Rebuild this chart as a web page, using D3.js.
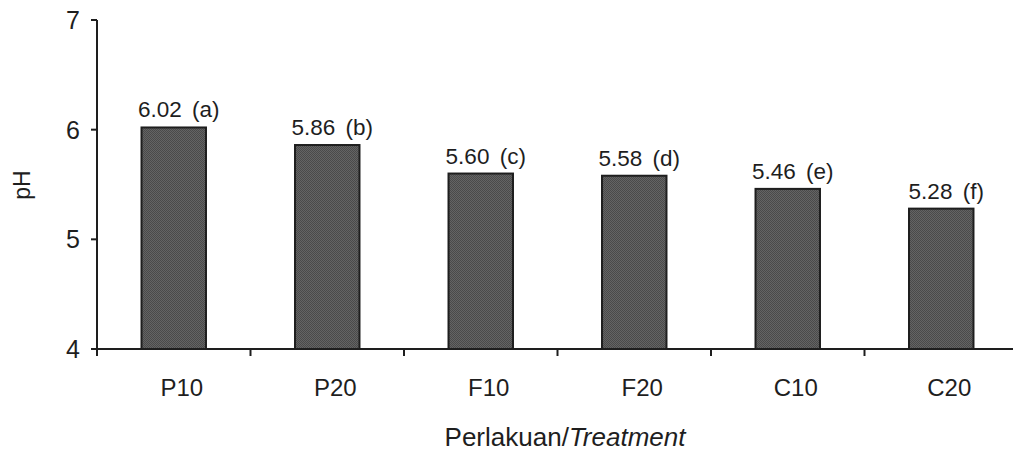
<!DOCTYPE html>
<html lang="en">
<head>
    <meta charset="UTF-8">
    <title>pH per perlakuan</title>
    <script src="https://d3js.org/d3.v7.min.js"></script>
    <style>
        body {
            margin: 0;
            background: white;
            font-family: "Liberation Sans", Arial, sans-serif;
        }
        svg {
            display: block;
        }
    </style>
</head>
<body>
    <svg width="1013" height="453"></svg>

    <script>
        const categories = ["P10", "P20", "F10", "F20", "C10", "C20"];
        const phValues = [6.02, 5.86, 5.60, 5.58, 5.46, 5.28];
        const letters = ["a", "b", "c", "d", "e", "f"];
        const yTicks = [4, 5, 6, 7];

        const svg = d3.select("svg");
        const ink = "#1e1e1e";

        const x = d3.scaleBand()
            .domain(categories)
            .range([97, 1018])
            .paddingInner(0.58)
            .paddingOuter(0.29);

        const y = d3.scaleLinear()
            .domain([4, 7])
            .range([349, 20]);

        // fine dotted fill like the printed bars
        const pat = svg.append("defs").append("pattern")
            .attr("id", "dots")
            .attr("width", 2).attr("height", 2)
            .attr("patternUnits", "userSpaceOnUse");
        pat.append("rect").attr("width", 2).attr("height", 2).attr("fill", "#646464");
        pat.append("rect").attr("width", 1).attr("height", 1).attr("fill", "#4a4a4a");
        pat.append("rect").attr("x", 1).attr("y", 1).attr("width", 1).attr("height", 1).attr("fill", "#4a4a4a");

        // bars
        svg.append("g")
            .selectAll("rect")
            .data(categories)
            .join("rect")
            .attr("x", d => x(d))
            .attr("width", x.bandwidth())
            .attr("y", (d, i) => y(phValues[i]))
            .attr("height", (d, i) => y(4) - y(phValues[i]))
            .attr("fill", "url(#dots)")
            .attr("stroke", ink)
            .attr("stroke-width", 2);

        // value labels
        svg.append("g")
            .selectAll("text")
            .data(categories)
            .join("text")
            .attr("x", d => x(d) + x.bandwidth() / 2 + 5)
            .attr("y", (d, i) => y(phValues[i]) - 10)
            .attr("text-anchor", "middle")
            .attr("font-size", 22.5)
            .attr("word-spacing", 4)
            .attr("fill", ink)
            .text((d, i) => `${phValues[i].toFixed(2)} (${letters[i]})`);

        // y axis
        const yAxis = svg.append("g").attr("transform", "translate(97,0)");
        yAxis.append("line")
            .attr("y1", y(7)).attr("y2", y(4))
            .attr("stroke", ink).attr("stroke-width", 2);
        yAxis.selectAll(".tick")
            .data(yTicks)
            .join("line")
            .attr("x1", -6).attr("x2", 0)
            .attr("y1", d => y(d)).attr("y2", d => y(d))
            .attr("stroke", ink).attr("stroke-width", 2);
        yAxis.selectAll("text")
            .data(yTicks)
            .join("text")
            .attr("x", -17)
            .attr("y", d => y(d))
            .attr("dy", "0.36em")
            .attr("text-anchor", "end")
            .attr("font-size", 25)
            .attr("fill", ink)
            .text(d => d);

        // x axis
        const xAxis = svg.append("g").attr("transform", `translate(0,${y(4)})`);
        xAxis.append("line")
            .attr("x1", x.range()[0]).attr("x2", x.range()[1])
            .attr("stroke", ink).attr("stroke-width", 2);
        xAxis.selectAll(".tick")
            .data(d3.range(categories.length))
            .join("line")
            .attr("x1", i => x.range()[0] + i * x.step())
            .attr("x2", i => x.range()[0] + i * x.step())
            .attr("y1", 0).attr("y2", 7)
            .attr("stroke", ink).attr("stroke-width", 2);
        xAxis.selectAll("text")
            .data(categories)
            .join("text")
            .attr("x", d => x(d) + x.bandwidth() / 2 + 8)
            .attr("y", 47)
            .attr("text-anchor", "middle")
            .attr("font-size", 24)
            .attr("fill", ink)
            .text(d => d);

        // axis titles
        const xTitle = svg.append("text")
            .attr("x", 565)
            .attr("y", 446)
            .attr("text-anchor", "middle")
            .attr("font-size", 26)
            .attr("fill", ink);
        xTitle.append("tspan").text("Perlakuan/");
        xTitle.append("tspan").attr("font-style", "italic").text("Treatment");

        svg.append("text")
            .attr("transform", "translate(30,185) rotate(-90)")
            .attr("text-anchor", "middle")
            .attr("font-size", 23)
            .attr("fill", ink)
            .text("pH");
    </script>
</body>
</html>
